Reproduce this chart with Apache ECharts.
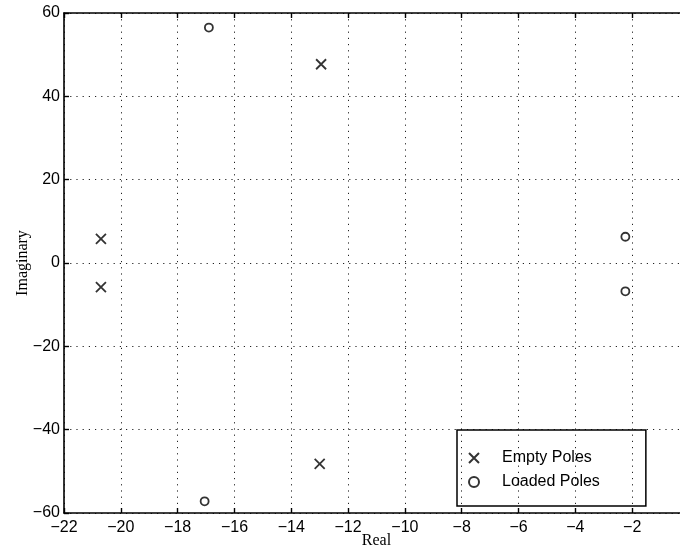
<!DOCTYPE html>
<html>
<head>
<meta charset="utf-8">
<script src="https://cdn.jsdelivr.net/npm/echarts@6/dist/echarts.min.js"></script>
<style>
html,body{margin:0;padding:0;background:#fff;}
#chart{width:680px;height:548px;}
</style>
</head>
<body>
<div id="chart"></div>
<script>
// Data
const emptyReal = [-20.7, -20.7, -12.95, -13.0];
const emptyImag = [5.8, -5.8, 47.7, -48.2];
const loadedReal = [-16.9, -17.05, -2.24, -2.24];
const loadedImag = [56.5, -57.2, 6.3, -6.8];
const seriesNames = ['Empty Poles', 'Loaded Poles'];
const xTicks = {min: -22, max: 0, step: 2};
const yTicks = {min: -60, max: 60, step: 20};
const xName = 'Real';
const yName = 'Imaginary';

const crossPath = 'path://M0,0L10,10M10,0L0,10';
const fmt = v => String(v).replace('-', '\u2212');
const tickFont = {fontFamily: 'Liberation Sans, Arial, sans-serif', fontSize: 16, color: '#000'};
const nameFont = {fontFamily: 'Liberation Serif, Times New Roman, serif', fontSize: 16, color: '#000'};
const gridLine = {show: true, lineStyle: {color: '#222', width: 1, type: [1.2, 5]}};
const legendFont = {fontFamily: 'Liberation Sans, Arial, sans-serif', fontSize: 16, color: '#000', lineHeight: 18};

const chart = echarts.init(document.getElementById('chart'), null, {renderer: 'canvas'});
chart.setOption({
  animation: false,
  backgroundColor: '#fff',
  grid: {left: 64, right: -9, top: 13, bottom: 35, containLabel: false, outerBoundsMode: 'none'},
  xAxis: [{
    type: 'value', min: xTicks.min, max: xTicks.max, interval: xTicks.step,
    name: xName, nameLocation: 'middle', nameGap: 20, nameMoveOverlap: false, nameTextStyle: nameFont,
    axisLine: {show: true, onZero: false, lineStyle: {color: '#000', width: 1.6}},
    axisTick: {show: true, inside: true, length: 5, lineStyle: {color: '#000', width: 1.4}},
    axisLabel: Object.assign({margin: 7, formatter: fmt}, tickFont),
    splitLine: gridLine
  }, {
    type: 'value', position: 'top', min: xTicks.min, max: xTicks.max, interval: xTicks.step,
    axisLine: {show: true, onZero: false, lineStyle: {color: '#000', width: 1.6}},
    axisTick: {show: true, inside: true, length: 5, lineStyle: {color: '#000', width: 1.4}},
    axisLabel: {show: false}, splitLine: {show: false}
  }],
  yAxis: [{
    type: 'value', min: yTicks.min, max: yTicks.max, interval: yTicks.step,
    name: yName, nameLocation: 'middle', nameGap: 33, nameRotate: 90, nameMoveOverlap: false, nameTextStyle: nameFont,
    axisLine: {show: true, onZero: false, lineStyle: {color: '#000', width: 1.6}},
    axisTick: {show: true, inside: true, length: 5, lineStyle: {color: '#000', width: 1.4}},
    axisLabel: Object.assign({margin: 4, formatter: fmt}, tickFont),
    splitLine: gridLine
  }],
  legend: {
    show: true, orient: 'vertical', left: 457, top: 430,
    padding: [19, 46, 15, 11], itemGap: 6, itemWidth: 30, itemHeight: 10,
    borderColor: '#000', borderWidth: 1.5, backgroundColor: 'transparent',
    formatter: name => '{t|' + name + '}',
    textStyle: Object.assign({rich: {t: Object.assign({padding: [0, 0, 0, 8]}, legendFont)}}, legendFont),
    data: [{name: seriesNames[0], icon: crossPath}, {name: seriesNames[1], icon: 'circle'}]
  },
  series: [{
    name: seriesNames[0], type: 'scatter', symbol: crossPath, symbolSize: 10,
    itemStyle: {color: 'transparent', borderColor: '#000', borderWidth: 1.8},
    data: emptyReal.map((r, i) => [r, emptyImag[i]])
  }, {
    name: seriesNames[1], type: 'scatter', symbol: 'circle', symbolSize: 8,
    itemStyle: {color: 'transparent', borderColor: '#000', borderWidth: 1.8},
    data: loadedReal.map((r, i) => [r, loadedImag[i]])
  }]
});
</script>
</body>
</html>
